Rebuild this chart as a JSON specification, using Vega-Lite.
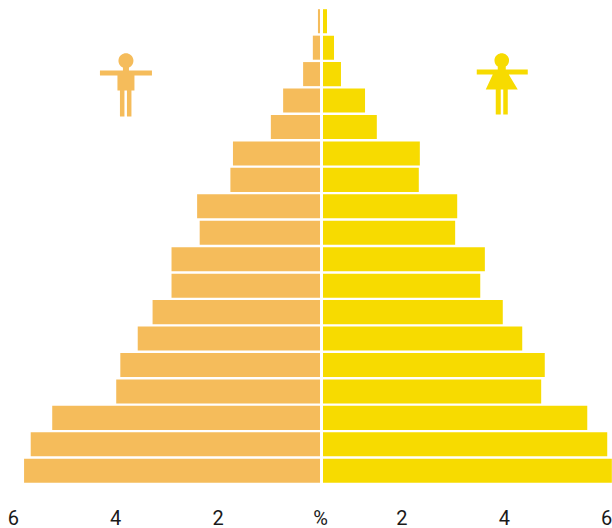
{
"$schema":"https://vega.github.io/schema/vega-lite/v6.json",
"padding":{"left":0,"top":8,"right":0,"bottom":44},
"spacing":3,
"bounds":"flush",
"background":"white",
"config":{"view":{"stroke":null},"axis":{"grid":false,"domain":false,"ticks":false,"labelFont":"Roboto","labelFontSize":20,"labelColor":"#1a1a1a","labelPadding":24,"labelFlush":false,"labelOverlap":false,"title":null}},
"datasets":{
"pop":[
{"age":"85+","male":0.04,"female":0.547},
{"age":"80-84","male":0.14,"female":0.684},
{"age":"75-79","male":0.33,"female":0.82},
{"age":"70-74","male":0.72,"female":1.29},
{"age":"65-69","male":0.96,"female":1.52},
{"age":"60-64","male":1.7,"female":2.36},
{"age":"55-59","male":1.75,"female":2.34},
{"age":"50-54","male":2.4,"female":3.09},
{"age":"45-49","male":2.35,"female":3.05},
{"age":"40-44","male":2.9,"female":3.63},
{"age":"35-39","male":2.9,"female":3.54},
{"age":"30-34","male":3.27,"female":3.98},
{"age":"25-29","male":3.56,"female":4.36},
{"age":"20-24","male":3.9,"female":4.8},
{"age":"15-19","male":3.98,"female":4.73},
{"age":"10-14","male":5.23,"female":5.63},
{"age":"5-9","male":5.65,"female":6.02},
{"age":"0-4","male":5.78,"female":6.11}
],
"icon":[{"age":"70-74","male":3.79,"female":3.96}]
},
"hconcat":[
{"width":320,"height":476,
"layer":[
{"data":{"name":"pop"},"mark":{"type":"bar","color":"#F5BC5B"},
"encoding":{
"y":{"field":"age","type":"nominal","sort":null,"axis":null,"scale":{"paddingInner":0.09,"paddingOuter":0.045}},
"x":{"field":"male","type":"quantitative","scale":{"domain":[6.25,0],"nice":false,"zero":false},"axis":{"values":[6,4,2,0],"format":"d","labelExpr":"datum.value==0?'%':datum.label"}}}},
{"data":{"name":"icon"},"mark":{"type":"point","filled":true,"opacity":1,"color":"#F5BC5B","size":40000,"shape":"M-0.03 -0.33A0.075 0.075 0 1 1 0.03 -0.33L0.03 -0.3L0.26 -0.3L0.26 -0.25L0.085 -0.25L0.085 -0.1L0.055 -0.1L0.055 0.16L0.01 0.16L0.01 -0.1L-0.015 -0.1L-0.015 0.16L-0.06 0.16L-0.06 -0.1L-0.085 -0.1L-0.085 -0.25L-0.26 -0.25L-0.26 -0.3L-0.03 -0.3Z"},
"encoding":{"y":{"field":"age","type":"nominal","sort":null,"axis":null},"x":{"field":"male","type":"quantitative","scale":{"domain":[6.25,0],"nice":false,"zero":false}}}}
]},
{"width":289,"height":476,
"layer":[
{"data":{"name":"pop"},"mark":{"type":"bar","color":"#F7DB00","clip":true},
"encoding":{
"y":{"field":"age","type":"nominal","sort":null,"axis":null,"scale":{"paddingInner":0.09,"paddingOuter":0.045}},
"x":{"field":"female","type":"quantitative","scale":{"domain":[0.469,6.113],"nice":false,"zero":false},"axis":{"values":[2,4,6],"format":"d"}}}},
{"data":{"name":"icon"},"mark":{"type":"point","filled":true,"opacity":1,"color":"#F7DB00","size":40000,"shape":"M-0.04 -0.34A0.073 0.073 0 1 1 0.04 -0.34L0.04 -0.31L0.26 -0.31L0.26 -0.26L0.07 -0.26L0.16 -0.11L0.06 -0.11L0.06 0.14L0.015 0.14L0.015 -0.11L-0.01 -0.11L-0.01 0.14L-0.06 0.14L-0.06 -0.11L-0.16 -0.11L-0.09 -0.26L-0.25 -0.26L-0.25 -0.31L-0.04 -0.31Z"},
"encoding":{"y":{"field":"age","type":"nominal","sort":null,"axis":null},"x":{"field":"female","type":"quantitative","scale":{"domain":[0.469,6.113],"nice":false,"zero":false}}}}
]}
]
}
